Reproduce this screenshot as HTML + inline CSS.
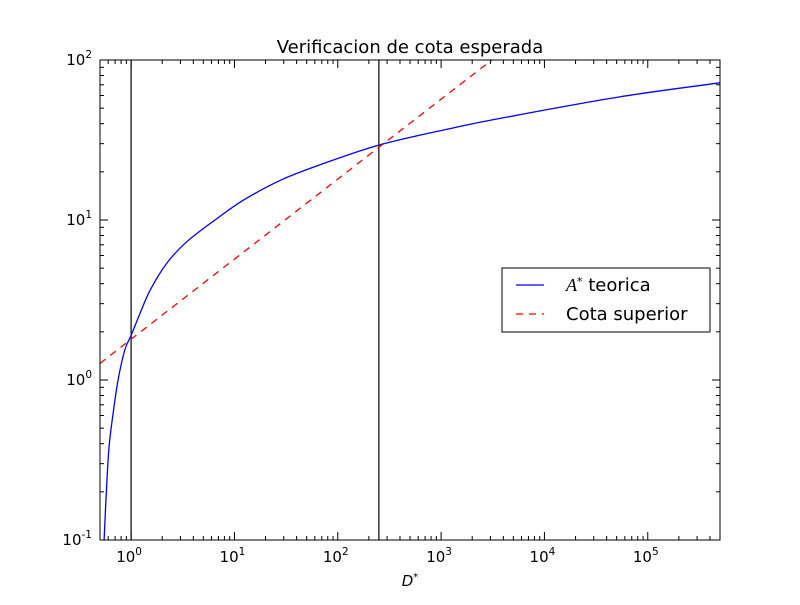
<!DOCTYPE html>
<html><head><meta charset="utf-8"><style>
body{margin:0;background:#fff;}
svg text{font-family:"DejaVu Sans","Liberation Sans",sans-serif;}
</style></head><body>
<svg id="chart" width="800" height="600" xmlns="http://www.w3.org/2000/svg"></svg>
<script>
const blueX = [0.548, 0.577, 0.612, 0.67, 0.748, 0.869, 1, 1.22, 1.53, 2.21, 3.46, 6.76, 12.2, 28.3, 65.6, 250, 1250, 4370, 55000, 500000];
const blueY = [0.1, 0.205, 0.383, 0.62, 1.0, 1.54, 1.9, 2.61, 3.65, 5.36, 7.32, 10.2, 13.3, 17.8, 22, 29.4, 37.4, 44, 59, 72];
const redX = [0.5, 1, 250, 3100];
const redY = [1.27, 1.8, 28.5, 100];
const vLines = [1, 250];
const xTickExp = [0, 1, 2, 3, 4, 5];
const yTickExp = [-1, 0, 1, 2];
const L=100,R=720,T=60,B=540;
const xmin=Math.log10(0.5), xmax=Math.log10(5e5), ymin=-1, ymax=2;
const sx=v=>L+(Math.log10(v)-xmin)/(xmax-xmin)*(R-L);
const sy=v=>B-(Math.log10(v)-ymin)/(ymax-ymin)*(B-T);
const svg=document.getElementById('chart');
const NS='http://www.w3.org/2000/svg';
function mk(tag,attrs,parent){const e=document.createElementNS(NS,tag);for(const k in attrs)e.setAttribute(k,attrs[k]);(parent||svg).appendChild(e);return e;}
function smooth(pts){let d='M'+pts[0][0]+','+pts[0][1];
for(let i=0;i<pts.length-1;i++){const p0=pts[Math.max(0,i-1)],p1=pts[i],p2=pts[i+1],p3=pts[Math.min(pts.length-1,i+2)];
const c1=[p1[0]+(p2[0]-p0[0])/6,p1[1]+(p2[1]-p0[1])/6],c2=[p2[0]-(p3[0]-p1[0])/6,p2[1]-(p3[1]-p1[1])/6];
d+=' C'+c1[0]+','+c1[1]+' '+c2[0]+','+c2[1]+' '+p2[0]+','+p2[1];}return d;}
const clip=mk('clipPath',{id:'c'});mk('rect',{x:L,y:T,width:R-L,height:B-T},clip);
const g=mk('g',{'clip-path':'url(#c)'});
vLines.forEach(v=>{const l=mk('line',{x1:sx(v),x2:sx(v),y1:T,y2:B,stroke:'#000','stroke-width':1.2},g);

});
const pb=mk('path',{d:smooth(blueX.map((x,i)=>[sx(x),sy(blueY[i])])),fill:'none',stroke:'#0000ff','stroke-width':1.3},g);


const pr=mk('polyline',{points:redX.map((x,i)=>sx(x)+','+sy(redY[i])).join(' '),fill:'none',stroke:'#ff0000','stroke-width':1.3,'stroke-dasharray':'7,6'},g);


mk('rect',{x:L,y:T,width:R-L,height:B-T,fill:'none',stroke:'#000','stroke-width':1});
for(let e=-1;e<=5;e++){for(let m=1;m<10;m++){const v=m*Math.pow(10,e);if(v<0.5||v>5e5)continue;const x=sx(v);const len=m==1?8:4;
mk('line',{x1:x,x2:x,y1:B,y2:B-len,stroke:'#000'});mk('line',{x1:x,x2:x,y1:T,y2:T+len,stroke:'#000'});}}
xTickExp.forEach(e=>{const t=mk('text',{x:sx(Math.pow(10,e))-2,y:B+22,'font-size':15,'text-anchor':'middle'});t.innerHTML='10<tspan dy="-7" font-size="10.5">'+e+'</tspan>';

});
for(let e=-1;e<2;e++){for(let m=1;m<=10;m++){const v=m*Math.pow(10,e);const y=sy(v);const len=(m==1||m==10)?8:4;
mk('line',{x1:L,x2:L+len,y1:y,y2:y,stroke:'#000'});mk('line',{x1:R,x2:R-len,y1:y,y2:y,stroke:'#000'});}}
yTickExp.forEach(e=>{const t=mk('text',{x:L-8,y:sy(Math.pow(10,e))+5,'font-size':15,'text-anchor':'end'});t.innerHTML='10<tspan dy="-7" font-size="10.5">'+e+'</tspan>';

});
</script>
<svg width="800" height="600" style="position:absolute;left:0;top:0" xmlns="http://www.w3.org/2000/svg">
<text x="410" y="53" font-size="18" text-anchor="middle" font-family="DejaVu Sans,Liberation Sans,sans-serif">Verificacion de cota esperada</text>
<text x="410" y="586" font-size="15" text-anchor="middle" font-style="italic" font-family="Liberation Serif,serif">D<tspan dy="-6" font-size="10">*</tspan></text>
<g>
<rect x="502" y="268" width="208" height="64" fill="#fff" stroke="#000"/>
<line x1="516" y1="285" x2="544" y2="285" stroke="#0000ff" stroke-width="1.3"/>
<text x="566" y="291" font-size="18" font-family="DejaVu Sans,sans-serif"><tspan font-style="italic" font-family="Liberation Serif,serif">A</tspan><tspan dy="-6" font-size="11">*</tspan><tspan dy="6"> teorica</tspan></text>
<line x1="516" y1="314" x2="544" y2="314" stroke="#ff0000" stroke-width="1.3" stroke-dasharray="7,6"/>
<text x="566" y="320" font-size="18" font-family="DejaVu Sans,sans-serif">Cota superior</text>
</g>
</svg>
</body></html>
